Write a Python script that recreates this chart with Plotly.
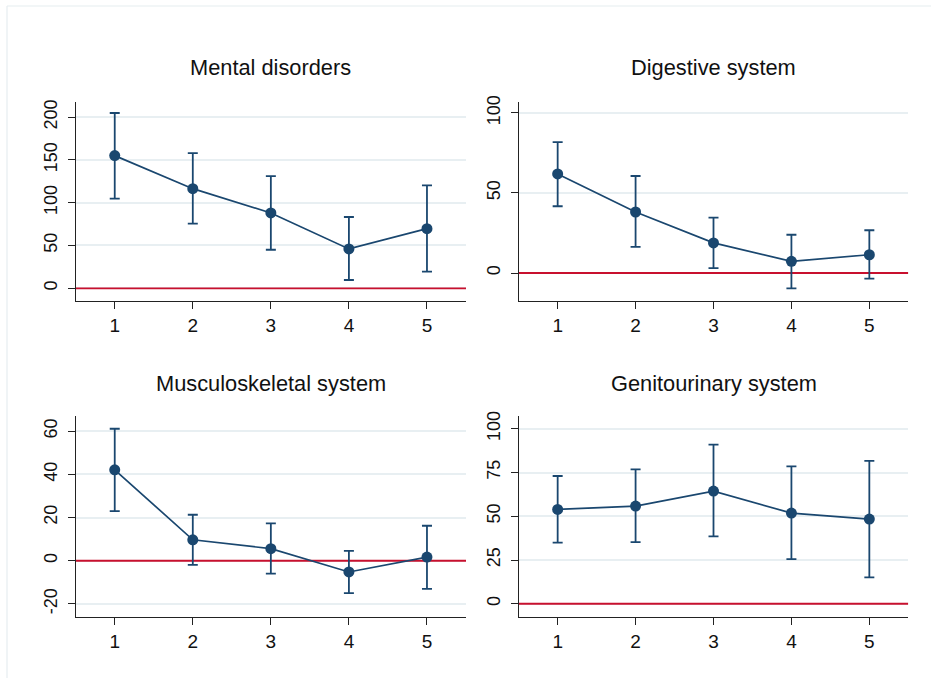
import plotly.graph_objects as go

W, H = 931, 678

titles = ["Mental disorders", "Digestive system", "Musculoskeletal system", "Genitourinary system"]
x_vals = [1, 2, 3, 4, 5]

mental_est = [155, 116.4, 88, 46, 69.7]
mental_lo = [104.7, 75.5, 45, 9.7, 19.4]
mental_hi = [204.8, 158, 131, 83.3, 120.3]

digest_est = [61.9, 38.1, 18.8, 7.3, 11.4]
digest_lo = [41.7, 16.3, 3.1, -9.6, -3.5]
digest_hi = [81.7, 60.6, 34.6, 23.9, 26.7]

musc_est = [42.1, 9.7, 5.6, -5.2, 1.7]
musc_lo = [23.0, -1.9, -6.0, -15.0, -13.0]
musc_hi = [61.1, 21.3, 17.3, 4.6, 16.2]

genit_est = [53.9, 55.8, 64.4, 51.8, 48.4]
genit_lo = [34.9, 35.2, 38.5, 25.5, 15.1]
genit_hi = [73.0, 76.8, 90.9, 78.5, 81.7]

y_ticks = [
    [0, 50, 100, 150, 200],
    [0, 50, 100],
    [-20, 0, 20, 40, 60],
    [0, 25, 50, 75, 100],
]
y_ranges = [[-14.5, 218], [-17.3, 107], [-25.9, 67], [-7.4, 107.3]]

series = [
    (mental_est, mental_lo, mental_hi),
    (digest_est, digest_lo, digest_hi),
    (musc_est, musc_lo, musc_hi),
    (genit_est, genit_lo, genit_hi),
]

# pixel boxes of the plot areas: (left, right, top, bottom)
boxes = [
    (75.7, 466.0, 101.7, 300.7),
    (518.7, 908.3, 101.7, 300.7),
    (75.7, 466.0, 416.0, 616.7),
    (518.7, 908.3, 416.0, 616.7),
]
title_y = [68, 68, 383, 383]

NAVY = "#1a476f"
RED = "#c8102e"
GRID = "#e8eff2"
AX = "#222222"
FONT = "Liberation Sans, Arial, sans-serif"

fig = go.Figure()
annotations = []
shapes = []

for i, ((est, lo, hi), box) in enumerate(zip(series, boxes)):
    n = i + 1
    xa = "x" if n == 1 else f"x{n}"
    ya = "y" if n == 1 else f"y{n}"
    plus = [h - e for h, e in zip(hi, est)]
    minus = [e - l for e, l in zip(est, lo)]
    l, r, t, b = box
    xdom = [l / W, r / W]
    ydom = [1 - b / H, 1 - t / H]
    # zero reference line
    fig.add_trace(go.Scatter(
        x=[0.5, 5.5], y=[0, 0], xaxis=xa, yaxis=ya, mode="lines",
        line=dict(color=RED, width=1.8), showlegend=False, hoverinfo="skip",
    ))
    fig.add_trace(go.Scatter(
        x=x_vals, y=est, xaxis=xa, yaxis=ya, mode="lines+markers",
        line=dict(color=NAVY, width=1.7),
        marker=dict(color=NAVY, size=11),
        error_y=dict(type="data", array=plus, arrayminus=minus, visible=True,
                     color=NAVY, thickness=1.8, width=5),
        showlegend=False, cliponaxis=False,
    ))
    axis_common = dict(
        showline=True, linecolor=AX, linewidth=1, ticks="outside",
        ticklen=7, tickcolor=AX, tickwidth=1, zeroline=False, automargin=False,
    )
    fig.layout[f"xaxis{'' if n == 1 else n}"] = dict(
        domain=xdom, anchor=ya, range=[0.5, 5.5], tickvals=x_vals,
        showgrid=False, tickfont=dict(family=FONT, size=19, color="#111111"),
        **axis_common)
    fig.layout[f"yaxis{'' if n == 1 else n}"] = dict(
        domain=ydom, anchor=xa, range=y_ranges[i], tickvals=y_ticks[i],
        ticktext=[str(v) for v in y_ticks[i]],
        showgrid=True, gridcolor=GRID, gridwidth=1.6, tickangle=-90,
        ticklabelstandoff=4,
        tickfont=dict(family=FONT, size=18, color="#111111"),
        **axis_common)
    annotations.append(dict(text=titles[i], xref="paper", yref="paper",
                            x=(l + r) / 2 / W, y=1 - title_y[i] / H,
                            xanchor="center", yanchor="middle", showarrow=False,
                            font=dict(family=FONT, size=21.8, color="#111111")))

# outer frame lines
shapes.append(dict(type="line", xref="paper", yref="paper", x0=7 / W, x1=1,
                   y0=1 - 6 / H, y1=1 - 6 / H, line=dict(color="#e6edf0", width=1.2)))
shapes.append(dict(type="line", xref="paper", yref="paper", x0=7 / W, x1=7 / W,
                   y0=0, y1=1 - 6 / H, line=dict(color="#e6edf0", width=1.2)))

fig.update_layout(
    width=W, height=H, margin=dict(l=0, r=0, t=0, b=0),
    paper_bgcolor="white", plot_bgcolor="white",
    annotations=annotations, shapes=shapes,
    font=dict(family=FONT),
)

fig.write_html("out.html", config={"displayModeBar": False},
               post_script="document.body.style.margin='0px';")
